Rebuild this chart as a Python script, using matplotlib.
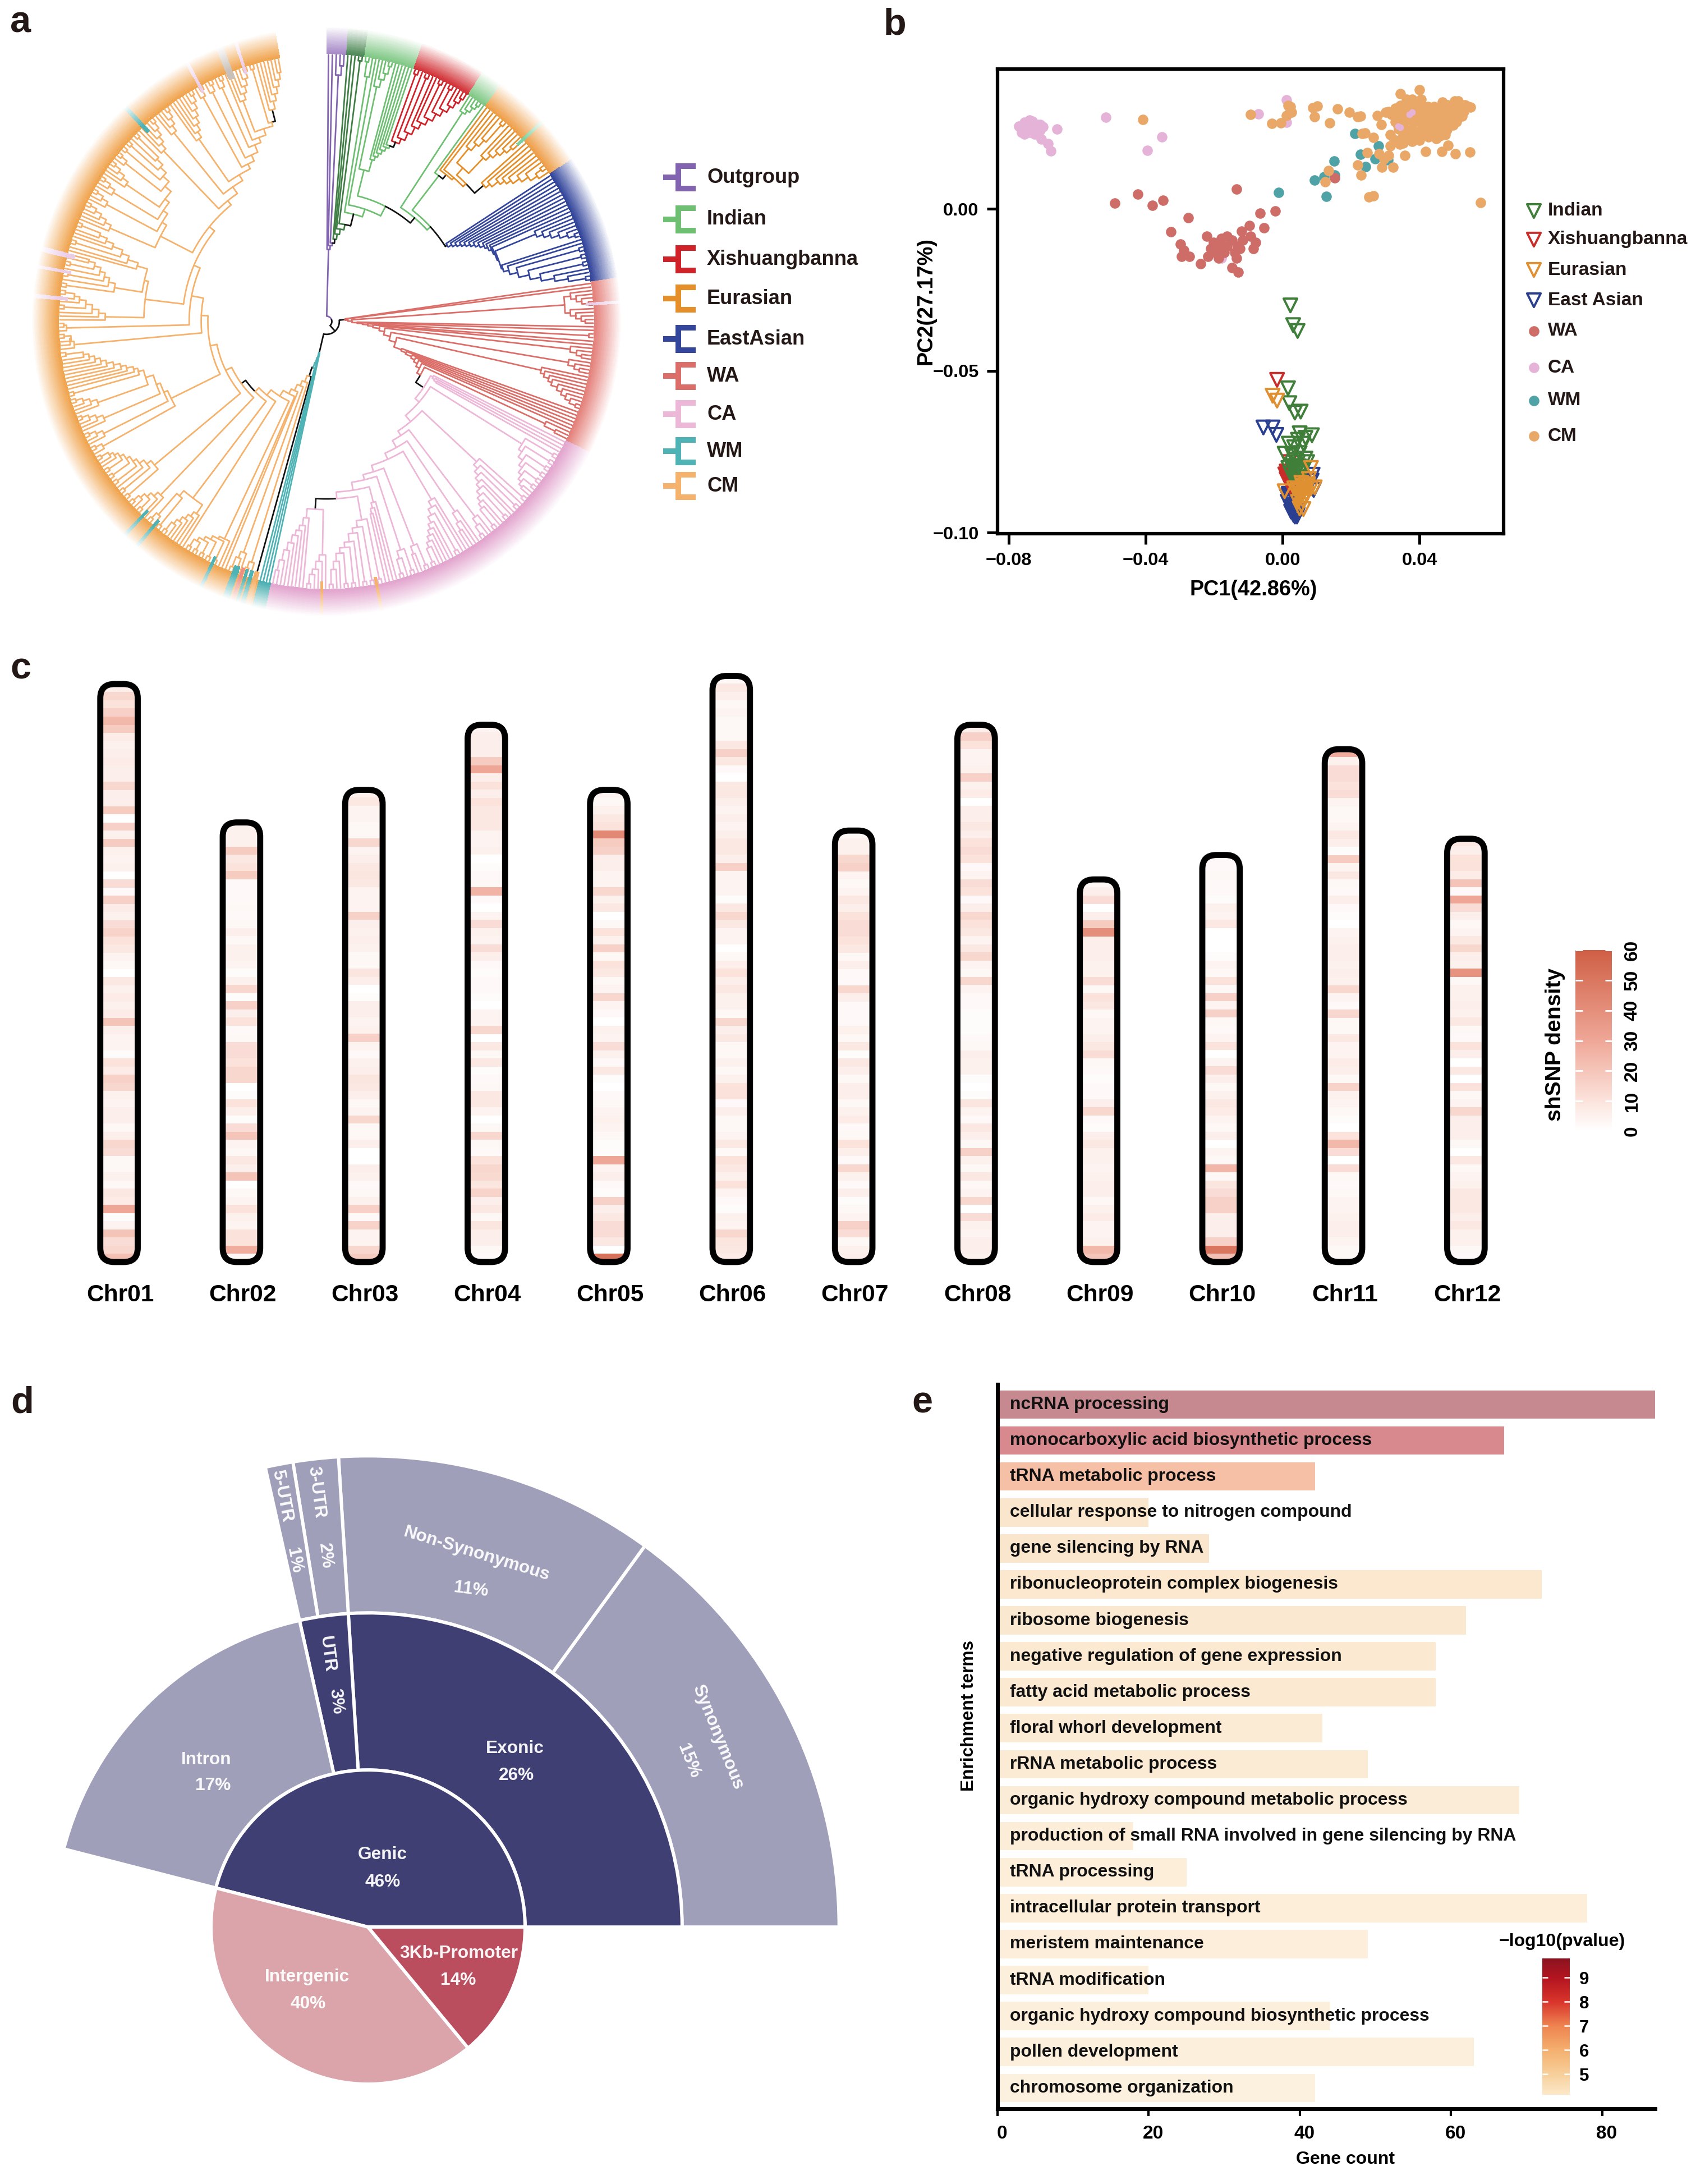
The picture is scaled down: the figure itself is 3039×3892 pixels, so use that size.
import numpy as np
import matplotlib
matplotlib.use("Agg")
import matplotlib.pyplot as plt
from matplotlib.cm import ScalarMappable
from matplotlib.collections import LineCollection
from matplotlib.colors import LinearSegmentedColormap, Normalize, to_rgb
from matplotlib.patches import FancyBboxPatch
from matplotlib.transforms import ScaledTranslation

plt.rcParams['font.family'] = ['Liberation Sans', 'DejaVu Sans']
plt.rcParams['font.weight'] = 'bold'
W, H = 3039, 3892


# tree helpers: a node is a radius (1 = tip ring) with children, int child = n tips
def N(r, *kids, c=None, s=None):
    return {'r': r, 'c': c, 's': s, 'kids': list(kids)}


def L(rs, lefts, tail=1, c=None, s=None):
    node = tail
    for r, left in zip(rs[::-1], lefts[::-1]):
        node = N(r, left, node)
    node['c'] = c
    node['s'] = s
    return node


# ---- panel a data ----
GROUP_COLORS = {'out': '#8263B0', 'dg': '#3F7F45', 'green': '#6FBF73', 'red': '#CF2229', 'eur': '#E48F2A',
                'blue': '#34469C', 'wa': '#DB6E68', 'ca': '#EDB7D7', 'wm': '#4FB3B5', 'cm': '#F4B26C', 'k': '#111111'}
STRIP_COLORS = ['#A88CC8', '#4F8A58', '#82C987', '#D2353A', '#82C987', '#EE9F4A', '#34469C', '#E4827C', '#E3A6CF',
                '#4DB0B2', '#F0A550']
STRIP_EDGES = [0, 4.2, 8.1, 19, 32, 36.4, 56.5, 81.4, 116.4, 192, 194.7, 350]
THIN_ANGLE = [47.2, 86.2, 169.2, 181, 195.5, 196.6, 197.7, 198.6, 200, 205.3, 220.2, 223.4, 275, 280.8, 284.3, 316.8,
              331.7, 338.7, 342]
THIN_COLOR = ['#7FD0A0', '#EBD0EA', '#F4B26C', '#F4B26C', '#F4B26C', '#4FB3B5', '#4FB3B5', '#EE8C86', '#4FB3B5',
              '#4FB3B5', '#4FB3B5', '#4FB3B5', '#EBCDE8', '#EBCDE8', '#EBCDE8', '#4FB3B5', '#EBCDE8', '#C9C0B8', '#EBCDE8']
THIN_WIDTH = [.6, .6, .6, .6, .8, .8, .6, .6, 1.3, .6, .6, .6, .8, .6, 1.0, .8, .6, 1.4, .6]

RED = L([.72, .74, .77, .80, .825, .85, .88, .905, .93, .955, .975], [2, 1, 2, 1, 1, 2, 1, 2, 1, 1, 1], 1, c='red', s='k')
G_UP = L([.63, .645, .66, .675, .69, .70], [1, 1, 1, 1, 1, 1], RED)
G_B = N(.585, L([.90, .93, .955], [1, 1, 1], 2), G_UP)
D1 = L([.935, .95, .97], [1, 1, 1], 2)
EUR1 = N(.77, L([.84, .87, .90], [1, 1, 1], 2), L([.85, .875, .90, .925, .95], [1, 1, 1, 1, 1], 1))
EUR2 = L([.78, .80, .83, .85, .87, .90, .93, .96], [1, 1, 1, 1, 1, 1, 1, 2], 1, s='k')
EUR = L([.71, .72, .735], [1, 1, EUR1], EUR2, c='eur', s='k')
K1 = L([.85, .875, .90, .93, .96], [1, 1, 1, 1, 1], 2)
K2 = L([.69, .71, .74, .78, .82, .87, .92], [1, 1, 2, 2, 2, 1, 1], 2)
BLUE = L([.535, .55, .565, .58, .595, .61, .625, .64, .655, .665, .675, .68], [1, 1, 1, 1, 1, 1, 1, 1, 1, 1, 1, 1],
         N(.685, K1, K2), c='blue', s='k')
E = N(.527, N(.69, 1, EUR), BLUE)
D = N(.51, D1, E, s='k')
C = N(.485, G_B, D)
P = N(.445, 1, C)
Q = N(.415, N(.93, 2, 1), P, c='green', s='k')
DG = L([.31, .33, .35, .37], [1, 1, 1, 2], Q, c='dg', s='k')
TOP = L([.27, .285], [1, 1], N(.295, N(.925, 1, N(.96, 1, 1)), DG), c='out')

C0 = L([.45, .46, .47], [1, 1, 1], 1)
C1 = L([.865, .88, .90, .915, .93, .945, .96], [2, 2, 2, 2, 2, 2, 1], 1)
C2 = L([.77, .79, .81, .83, .85, .87, .89, .91], [2, 1, 2, 1, 1, 2, 1, 1], 2)
C3 = L([.92, .95], [1, 1], 2)
C4 = L([.86, .90, .93], [1, 1, 1], 1)
C5 = L([.775, .80, .825, .85, .87, .89, .91, .93], [1, 1, 2, 1, 1, 1, 1, 1], 2)
C6 = L([.90, .93], [2, 1], 1)
C7 = L([.90, .93], [2, 1], 2)
C8 = L([.755, .78, .80, .83, .85, .87, .90, .93], [2, 2, 2, 1, 2, 2, 1, 1], 2)
C9 = L([.70, .72, .74], [1, 1, 1], 1)
C_LAST = L([.875, .90, .93, .95], [1, 1, 1, 1], 2)
C_TAIL = L([.74, .77, .79, .81, .84, .87, .91, .95], [1, 1, 1, 1, 1, 1, 1, 1], 1)
CA = L([.44, .46, .49, .51, .54, .565, .59, .61, .64, .665], [C0, C1, C2, C3, C4, C5, C6, C7, C9, C8],
       N(.705, C_LAST, C_TAIL, s='k'), c='ca', s='k')

WA1 = N(.895, L([.92, .94, .96], [1, 1, 1], 2), L([.915, .935, .955, .97], [1, 1, 1, 1], 1))
WA2 = L([.92, .945, .965], [1, 1, 1], 1)
WA3 = L([.92, .945, .965], [1, 1, 1], 1)
WA4 = L([.825, .84, .86, .875, .90, .92, .94, .96], [1, 1, 1, 1, 1, 1, 1, 1], 2)
WA = L([.07, .08, .095, .115, .135, .155, .175, .20, .22, .245, .27, .30, .32, .345, .36, .375, .39, .405],
       [1, 1, WA1, 1, 1, 2, 1, 1, WA2, WA3, WA4, 1, 1, 1, 1, 1, 1, N(.905, 1, N(.95, 1, 1))], CA, c='wa', s='k')

CM_M = L([.70, .72, .74, .76, .79, .82, .85, .88], [6, 4, 4, 5, 3, 2, 2, 1], 2)
CM_END = L([.82, .85, .875, .90, .925, .95], [1, 1, 1, 1, 1, 1], 1, s='k')
CM_TAIL = L([.585, .615, .64, .66, .685, .715, .735, .76, .775], [6, 5, 8, 3, 3, 3, 1, 6, 2], CM_END)
CM_J = L([.83, .855, .88, .905, .93, .95], [1, 1, 1, 2, 1, 1], 2)
CM_K = L([.805, .83, .85, .87, .895, .92], [2, 1, 2, 1, 2, 1], 1)
CM_L = L([.74, .78, .81, .85, .88, .91], [1, 1, 2, 1, 1, 1], 2)
CM_G = L([.65, .665, .68, .71, .73, .745, .77, .79, .815, .84, .86, .88, .90, .92],
         [3, 4, 5, 5, 2, 1, 1, 1, 1, 1, 1, 1, 1, 1], 2)
CM_UP = L([.445, .47, .515, .54, .565],
          [CM_G, L([.95, .965], [1, 1], 3), N(.975, 1, N(.985, 1, 1)), N(.685, CM_J, N(.70, CM_K, CM_L)), CM_M], CM_TAIL)
CM_MID = L([.395, .42],
           [L([.90, .92, .94, .96], [1, 1, 2, 1], 2),
            L([.84, .86, .88, .895, .91, .925, .94, .955], [2, 2, 1, 2, 2, 2, 1, 1], 2)], CM_UP, s='k')
CM = L([.215, .24, .26, .285, .305, .33, .355, .375],
       [N(.975, 1, 1, s='k'), N(.945, 1, N(.97, 1, 1)), L([.92, .945], [1, 1], 2), 1, 1,
        L([.90, .91, .925, .94, .955], [1, 2, 2, 2, 2], 2), 1,
        L([.83, .855], [L([.87, .89, .91, .93, .95], [1, 1, 1, 1, 1], 2), 2], 3)], CM_MID, c='cm', s='k')
WM_CM = L([.12, .14, .16, .18], [1, 1, 1, 1], CM, c='wm', s='k')
TREE = N(.02, TOP, N(.048, WA, WM_CM, s='k'), c='out')

LEGEND_A = ['Outgroup', 'Indian', 'Xishuangbanna', 'Eurasian', 'EastAsian', 'WA', 'CA', 'WM', 'CM']
LEGEND_A_KEY = ['out', 'green', 'red', 'eur', 'blue', 'wa', 'ca', 'wm', 'cm']

# ---- panel b data ----
CM_X = [.0089, .0102, .0093, .0138, .0160, .0195, .0220, .0228, .0026, .0023, .0233, .0241, .0266, .0247, .0282, .0310,
        .0296, .0220, .0291, .0323, .0230, .0135, .0124, .0252, .0266, .0579, .0277, .0289, .0315, .0326, .0315, .0342,
        .0353, .0357, .0418, .0465, .0484, .0505, .0547, .0344, .0400, .0310, .0362, .0378, .0405, .0424, .0468, .0514,
        .0550, .0531, .0503, .0438, .0454, .0482, .0493, .0525, .0509, .0498, .0476, .0449, .0427, .0400, .0378, .0367,
        .0351, .0340, .0329, .0318, .0301, .0329, .0351, .0372, .0394, .0416, .0362, .0383, .0405, .0427, .0449, .0471,
        .0493, .0514, .0476, .0378, .0400, .0422, .0443, .0465, .0356, .0340, .0443, .0482, .0498, .0514, .0533, .0460,
        .0389, .0405, .0351, -.0408, -.0093, -.0031, -.0005, .0012, .0023, .0016,
        .0345, .0360, .0375, .0390, .0410, .0430, .0445, .0460, .0470, .0485, .0505, .0520, .0540, .0510, .0490, .0460,
        .0435, .0410, .0385, .0360, .0345, .0330, .0350, .0375, .0395, .0415, .0435, .0460, .0480, .0500, .0530]
CM_Y = [.0313, .0318, .0284, .0265, .0309, .0299, .0284, .0286, .0298, .0316, .0232, .0235, .0220, .0174, .0171, .0165,
        .0154, .0136, .0128, .0128, .0105, .0119, .0084, .0036, .0041, .0020, .0288, .0261, .0229, .0214, .0195, .0200,
        .0203, .0165, .0177, .0177, .0197, .0171, .0175, .0356, .0368, .0301, .0339, .0339, .0339, .0316, .0330, .0333,
        .0314, .0313, .0333, .0292, .0298, .0310, .0292, .0287, .0269, .0258, .0229, .0217, .0223, .0212, .0209, .0229,
        .0246, .0246, .0269, .0292, .0298, .0310, .0316, .0310, .0321, .0292, .0287, .0269, .0264, .0264, .0264, .0264,
        .0281, .0298, .0287, .0246, .0240, .0240, .0240, .0240, .0269, .0292, .0316, .0321, .0316, .0319, .0321, .0275,
        .0292, .0304, .0223, .0276, .0291, .0264, .0265, .0289, .0304, .0319,
        .0320, .0305, .0325, .0305, .0318, .0300, .0280, .0300, .0310, .0275, .0305, .0310, .0318, .0285, .0260, .0250,
        .0250, .0230, .0230, .0245, .0280, .0290, .0300, .0275, .0280, .0275, .0225, .0225, .0245, .0275, .0300]
WM_X = [.0211, .0281, .0228, .0270, .0308, .0242, .0150, .0121, .0093, .0153, .0128, -.0012]
WM_Y = [.0232, .0195, .0168, .0154, .0151, .0131, .0148, .0099, .0089, .0105, .0038, .0051]
WA_X = [.0153, -.0490, -.0423, -.0381, -.0350, -.0276, -.0134, -.0327, -.0065, -.0022, -.0097, -.0054, -.0120, -.0093,
        -.0078, -.0086, -.0299, -.0288, -.0296, -.0272, -.0240, -.0218, -.0221, -.0202, -.0187, -.0179, -.0163, -.0148,
        -.0132, -.0195, -.0171, -.0140, -.0125, -.0135, -.0148, -.0129, -.0210, -.0117, -.0187, -.0163]
WA_Y = [.0096, .0018, .0046, .0011, .0026, -.0027, .0061, -.0071, -.0013, -.0006, -.0052, -.0058, -.0069, -.0085,
        -.0103, -.0122, -.0109, -.0128, -.0146, -.0146, -.0170, -.0146, -.0085, -.0103, -.0116, -.0091, -.0116, -.0097,
        -.0116, -.0134, -.0134, -.0134, -.0122, -.0152, -.0182, -.0195, -.0122, -.0097, -.0152, -.0085]
CA_X = [-.0771, -.0763, -.0755, -.0747, -.0740, -.0732, -.0724, -.0716, -.0708, -.0701, -.0763, -.0740, -.0747, -.0724,
        -.0755, -.0732, -.0708, -.0740, -.0659, -.0705, -.0685, -.0677, -.0517, -.0352, -.0395, .0012, -.0070, .0012,
        -.0179, .0378, .0370, .0345, .0337]
CA_Y = [.0255, .0237, .0268, .0243, .0274, .0255, .0231, .0261, .0243, .0253, .0249, .0237, .0258, .0249, .0231, .0270,
        .0261, .0253, .0246, .0215, .0201, .0179, .0283, .0223, .0180, .0337, .0294, .0268, -.0152, .0298, .0292, .0252,
        .0255]
BLUE_X = [-.0056, -.0029, -.0018, .0015, .0023, .0034, .0044, .0028, .0017, .0039, .0088, .0085, .0091, .0012, .0036,
          .0020, .0030, .0040, .0025, .0032, .0018, .0026, .0042]
BLUE_Y = [-.0675, -.0675, -.0698, -.0904, -.0921, -.0944, -.0944, -.0933, -.0892, -.0933, -.0821, -.0839, -.0868, -.0886,
          -.0950, -.0900, -.0915, -.0925, -.0935, -.0945, -.0880, -.0905, -.0950]
XISH_X = [-.0016, .0012, .0017, .0026, .0012, .0034, .0020, .0044, .0023, .0036, .0012, .0020, .0030, .0008, .0016, .0028]
XISH_Y = [-.0528, -.0823, -.0834, -.0846, -.0811, -.0829, -.0782, -.0834, -.0858, -.0800, -.0835, -.0848, -.0855, -.0820,
          -.0815, -.0838]
IND_X = [.0023, .0031, .0044, .0016, .0020, .0036, .0053, .0050, .0086, .0067, .0045, .0018, .0061, .0034, .0006, .0050,
         .0028, .0067, .0045, .0028, .0056, .0072, .0017, .0039, .0023, .0056, .0035, .0048, .0030, .0042, .0052, .0032,
         .0044, .0060]
IND_Y = [-.0298, -.0359, -.0377, -.0554, -.0600, -.0629, -.0626, -.0693, -.0699, -.0707, -.0713, -.0725, -.0725, -.0736,
         -.0756, -.0754, -.0759, -.0771, -.0782, -.0794, -.0800, -.0782, -.0800, -.0817, -.0817, -.0817, -.0775, -.0795,
         -.0805, -.0810, -.0830, -.0830, -.0840, -.0805]
EUR_X = [-.0029, -.0016, .0044, .0061, .0050, .0066, .0055, .0061, .0077, .0083, .0034, .0072, .0083, .0094, .0055, .0006,
         .0066, .0050, .0055, .0060, .0070, .0075, .0045, .0050, .0065, .0058]
EUR_Y = [-.0577, -.0592, -.0869, -.0875, -.0892, -.0892, -.0915, -.0927, -.0834, -.0800, -.0863, -.0863, -.0863, -.0860,
         -.0846, -.0872, -.0852, -.0870, -.0880, -.0900, -.0880, -.0850, -.0905, -.0925, -.0865, -.0855]
LEGEND_B = ['Indian', 'Xishuangbanna', 'Eurasian', 'East Asian', 'WA', 'CA', 'WM', 'CM']
LEGEND_B_COLOR = ['#3F7F3A', '#C92D2A', '#DF9030', '#2A3F8F', '#CE6C68', '#E5B3D8', '#4FA3A7', '#E9A868']
LEGEND_B_MARKER = ['v', 'v', 'v', 'v', 'o', 'o', 'o', 'o']

# ---- panel c data: shSNP density per bin, top to bottom ----
CHR_NAMES = ['Chr01', 'Chr02', 'Chr03', 'Chr04', 'Chr05', 'Chr06', 'Chr07', 'Chr08', 'Chr09', 'Chr10', 'Chr11', 'Chr12']
CHR01 = [6, 14, 10, 16, 24, 18, 7, 5, 6, 7, 6, 6, 14, 6, 6, 18, 0, 16, 5, 18, 5, 4, 5, 0, 12, 2, 16, 7, 5, 12, 15, 10,
         8, 4, 3, 0, 8, 5, 7, 5, 7, 20, 6, 4, 4, 1, 10, 7, 16, 14, 5, 4, 6, 6, 3, 6, 14, 12, 3, 3, 5, 3, 8, 7, 30, 1, 4,
         20, 12, 14, 22]
CHR02 = [5, 5, 5, 18, 8, 10, 18, 2, 2, 2, 3, 2, 3, 6, 3, 5, 5, 4, 1, 5, 14, 1, 16, 6, 10, 2, 3, 12, 12, 10, 14, 14, 0, 1,
         10, 6, 1, 12, 20, 4, 3, 8, 6, 20, 0, 3, 4, 10, 5, 4, 10, 10, 28, 3]
CHR03 = [5, 8, 4, 4, 3, 3, 14, 4, 6, 8, 9, 8, 4, 4, 4, 16, 6, 5, 6, 5, 3, 3, 9, 6, 0, 1, 6, 6, 4, 5, 16, 4, 2, 5, 6, 9,
         8, 6, 3, 4, 14, 3, 3, 6, 0, 0, 6, 5, 2, 3, 5, 16, 2, 15, 4, 4, 14, 18]
CHR04 = [4, 6, 6, 6, 18, 30, 6, 10, 6, 10, 8, 8, 8, 4, 4, 5, 0, 1, 2, 3, 26, 2, 0, 4, 12, 5, 4, 12, 6, 2, 1, 2, 2, 1, 0, 4,
         4, 14, 0, 8, 3, 8, 1, 2, 3, 8, 8, 4, 0, 3, 14, 3, 2, 10, 14, 13, 9, 15, 6, 8, 3, 9, 6, 6, 3, 2]
CHR05 = [4, 3, 5, 8, 10, 42, 18, 16, 6, 6, 4, 4, 14, 5, 8, 0, 3, 10, 5, 16, 3, 10, 8, 3, 4, 14, 4, 2, 0, 5, 4, 12, 5, 2, 8,
         1, 0, 2, 3, 4, 5, 4, 3, 1, 1, 30, 4, 6, 2, 1, 16, 6, 8, 12, 12, 8, 0, 52]
CHR06 = [3, 8, 6, 3, 4, 3, 3, 3, 8, 16, 8, 2, 0, 8, 8, 6, 4, 6, 4, 6, 8, 8, 6, 16, 4, 4, 4, 1, 8, 14, 8, 4, 4, 0, 3, 6, 10,
         6, 8, 5, 5, 3, 14, 6, 8, 3, 3, 5, 3, 5, 10, 10, 2, 6, 3, 3, 4, 8, 2, 10, 8, 5, 10, 4, 2, 1, 5, 4, 14, 9, 8, 7]
CHR07 = [3, 5, 5, 14, 16, 4, 3, 4, 8, 6, 10, 12, 12, 10, 8, 3, 6, 2, 2, 14, 6, 2, 2, 2, 5, 3, 8, 1, 8, 6, 3, 6, 6, 3, 5, 7,
         2, 3, 10, 6, 2, 14, 5, 2, 6, 1, 3, 4, 16, 12, 3, 5, 6]
CHR08 = [6, 16, 10, 4, 4, 5, 16, 5, 7, 0, 6, 6, 8, 6, 10, 12, 10, 2, 4, 12, 10, 2, 6, 14, 10, 8, 4, 8, 14, 4, 3, 14, 4,
         2, 2, 1, 1, 1, 2, 3, 6, 5, 5, 1, 0, 1, 9, 4, 2, 8, 6, 3, 16, 5, 3, 8, 3, 4, 14, 0, 12, 5, 4, 6, 6, 5]
CHR09 = [3, 6, 12, 0, 6, 18, 40, 6, 6, 6, 5, 5, 12, 3, 10, 8, 3, 4, 4, 6, 8, 12, 3, 2, 1, 2, 2, 6, 14, 2, 1, 6, 8, 5, 5,
         4, 5, 6, 6, 3, 5, 7, 4, 4, 5, 24, 20]
CHR10 = [2, 2, 3, 2, 2, 1, 5, 4, 8, 0, 0, 0, 1, 4, 3, 10, 3, 16, 4, 16, 3, 2, 4, 10, 0, 4, 12, 6, 3, 5, 8, 7, 4, 3, 6, 0,
         4, 3, 25, 3, 9, 12, 16, 16, 6, 6, 6, 16, 50, 22]
CHR11 = [28, 5, 12, 12, 10, 12, 4, 3, 3, 4, 8, 6, 1, 18, 4, 8, 3, 2, 6, 2, 1, 0, 4, 5, 6, 6, 5, 6, 5, 14, 4, 2, 14, 3, 3,
         8, 4, 4, 7, 6, 3, 15, 5, 4, 3, 1, 0, 10, 24, 12, 0, 12, 3, 2, 3, 4, 4, 5, 6, 6, 4, 3, 3]
CHR12 = [8, 6, 10, 10, 7, 20, 2, 30, 12, 6, 3, 4, 8, 14, 6, 5, 38, 3, 5, 5, 6, 5, 8, 3, 2, 10, 6, 0, 8, 0, 10, 3, 4, 14, 6,
         6, 6, 3, 0, 8, 3, 4, 5, 8, 8, 8, 6, 8, 5, 5, 3, 2]
CHR_DENSITY = [CHR01, CHR02, CHR03, CHR04, CHR05, CHR06, CHR07, CHR08, CHR09, CHR10, CHR11, CHR12]

# ---- panel d data: shares, printed labels are separate ----
D_INNER = [46, 40, 14]
D_MIDDLE = [26, 2.5, 17.5]
D_OUTER = [15, 11, 1.55, .95]

# ---- panel e data ----
E_TERMS = ['ncRNA processing', 'monocarboxylic acid biosynthetic process', 'tRNA metabolic process',
           'cellular response to nitrogen compound', 'gene silencing by RNA', 'ribonucleoprotein complex biogenesis',
           'ribosome biogenesis', 'negative regulation of gene expression', 'fatty acid metabolic process',
           'floral whorl development', 'rRNA metabolic process', 'organic hydroxy compound metabolic process',
           'production of small RNA involved in gene silencing by RNA', 'tRNA processing',
           'intracellular protein transport', 'meristem maintenance', 'tRNA modification',
           'organic hydroxy compound biosynthetic process', 'pollen development', 'chromosome organization']
E_COUNT = [87, 67, 42, 20, 28, 72, 62, 58, 58, 43, 49, 69, 18, 25, 78, 49, 20, 44, 63, 42]
E_LOGP = [9.7, 9.0, 7.0, 5.0, 5.0, 4.9, 4.85, 4.8, 4.8, 4.7, 4.65, 4.6, 4.55, 4.5, 4.5, 4.45, 4.4, 4.4, 4.35, 4.3]

fig = plt.figure(figsize=(W / 300, H / 300), dpi=300, facecolor='white')


def add_ax(x0, y0, x1, y1, **kw):
    return fig.add_axes([x0 / W, 1 - y1 / H, (x1 - x0) / W, (y1 - y0) / H], **kw)


# ---- panel a: fan tree ----
ax_a = add_ax(52, 43, 1112, 1103, projection='polar')
ax_a.set_theta_zero_location('N')
ax_a.set_theta_direction(-1)
ax_a.set_axis_off()
RMAX = 1.115


def collect_tips(node, color, out):
    if isinstance(node, int):
        for _ in range(node):
            out.append(color)
        return
    color = node['c'] or color
    for k in node['kids']:
        collect_tips(k, color, out)


tip_colors = []
collect_tips(TREE, 'out', tip_colors)
runs = []
for col in tip_colors:
    if runs and runs[-1][0] == col:
        runs[-1][1] += 1
    else:
        runs.append([col, 1])
tip_angles = []
for k, (col, m) in enumerate(runs):
    for i in range(m):
        tip_angles.append(STRIP_EDGES[k] + (i + .5) * (STRIP_EDGES[k + 1] - STRIP_EDGES[k]) / m)

segs = {}
tip_pos = [0]


def comb(n):
    # n tips of an unresolved end clade, stepping up to the ring
    rs = [.985 - .025 * i for i in range(n - 1)][::-1]
    return L(rs, [1] * (n - 1), 1)


def add_branch(color, th0, th1, r, r1):
    arc = np.linspace(th0, th1, max(2, int(abs(th1 - th0) / 1.5) + 2))
    pts = [(np.radians(t), r) for t in arc] + [(np.radians(th1), r1)]
    segs.setdefault(color, []).append(pts)


def layout(node, color):
    # returns angle and radius of node, mean-of-children rule as in an elbow tree
    if isinstance(node, int) and node == 1:
        a = tip_angles[tip_pos[0]]
        tip_pos[0] += 1
        return a, 1.0, color
    if isinstance(node, int):
        node = comb(node)
    color = node['c'] or color
    res = [layout(k, color) for k in node['kids']]
    a = (res[0][0] + res[-1][0]) / 2
    for ca, cr, ccol in res:
        add_branch(ccol, a, ca, node['r'], cr)
    return a, node['r'], node['s'] or color


layout(TREE, 'out')
for key, pts in segs.items():
    ax_a.add_collection(LineCollection(pts, colors=GROUP_COLORS[key], linewidths=.66, capstyle='round', zorder=3),
                        autolim=False)


def fade_strip(a0, a1, color, r0=1.003, z=1):
    # opaque blend with white, so neighbouring cells cannot double up
    th = np.radians(np.linspace(a0, a1, max(2, int(a1 - a0) + 2)))
    rr = np.linspace(r0, 1.108, 30)
    rc = (rr[:-1] + rr[1:]) / 2
    alpha = np.clip(1 - (np.clip(rc - 1.008, 0, None) / .098) ** 1.05, 0, 1)
    rgb = 1 - alpha[:, None] * (1 - np.array(to_rgb(color)))[None, :]
    rgba = np.ones((len(rc), len(th) - 1, 4))
    rgba[..., :3] = rgb[:, None, :]
    T, R = np.meshgrid(th, rr)
    ax_a.pcolormesh(T, R, rgba, shading='flat', zorder=z)


for k, col in enumerate(STRIP_COLORS):
    fade_strip(STRIP_EDGES[k], STRIP_EDGES[k + 1], col)
for ang, col, wid in zip(THIN_ANGLE, THIN_COLOR, THIN_WIDTH):
    fade_strip(ang - wid / 2, ang + wid / 2, col, r0=.975, z=4)
ax_a.set_ylim(0, RMAX)
ax_a.grid(False)

# overlay in picture pixels for labels and hand placed legends
ov = fig.add_axes([0, 0, 1, 1], zorder=10)
ov.set_xlim(0, W)
ov.set_ylim(H, 0)
ov.axis('off')
ov.patch.set_alpha(0)

for txt, px, py in zip('abcde', [37, 1595, 37, 40, 1644], [40, 44, 1192, 2501, 2501]):
    ov.text(px, py, txt, fontsize=16, ha='center', va='center', color='#231815')

LEG_A_Y = [316, 391, 462, 532, 604, 670, 738, 804, 866]
for name, key, y in zip(LEGEND_A, LEGEND_A_KEY, LEG_A_Y):
    col = GROUP_COLORS[key]
    ov.plot([1182, 1209], [y, y], color=col, lw=2.4, solid_capstyle='butt')
    ov.plot([1235, 1209, 1209, 1235], [y - 20, y - 20, y + 20, y + 20], color=col, lw=2.4, solid_joinstyle='miter')
    ov.text(1260, y, name, fontsize=8.7, va='center', ha='left', color='#231815')

# ---- panel b: PCA ----
ax_b = add_ax(1778, 123, 2680, 951)
S_DOT, S_TRI = 20, 34
ax_b.scatter(CA_X, CA_Y, s=S_DOT, color=LEGEND_B_COLOR[5], lw=0, zorder=2)
ax_b.scatter(WM_X, WM_Y, s=S_DOT, color=LEGEND_B_COLOR[6], lw=0, zorder=3)
ax_b.scatter(WA_X, WA_Y, s=S_DOT, color=LEGEND_B_COLOR[4], lw=0, zorder=3)
ax_b.scatter(CM_X, CM_Y, s=S_DOT, color=LEGEND_B_COLOR[7], lw=0, zorder=4)
ax_b.scatter(CA_X[-4:], CA_Y[-4:], s=S_DOT * .4, color=LEGEND_B_COLOR[5], lw=0, zorder=5)
tri = dict(marker='v', s=S_TRI, facecolors='none', linewidths=.95)
ax_b.scatter(BLUE_X, BLUE_Y, edgecolors=LEGEND_B_COLOR[3], zorder=4, **tri)
ax_b.scatter(XISH_X, XISH_Y, edgecolors=LEGEND_B_COLOR[1], zorder=5, **tri)
ax_b.scatter(IND_X, IND_Y, edgecolors=LEGEND_B_COLOR[0], zorder=6, **tri)
ax_b.scatter(EUR_X, EUR_Y, edgecolors=LEGEND_B_COLOR[2], zorder=7, **tri)
ax_b.set_xlim(-.0833, .0646)
ax_b.set_ylim(-.1003, .0432)
ax_b.set_xticks([-.08, -.04, 0, .04])
ax_b.set_yticks([0, -.05, -.10])
ax_b.xaxis.set_major_formatter(lambda v, p: f'{v:.2f}'.replace('-', '\u2212'))
ax_b.yaxis.set_major_formatter(lambda v, p: f'{v:.2f}'.replace('-', '\u2212'))
ax_b.tick_params(labelsize=7.8, length=4.5, width=1.2, pad=3.5)
for sp in ax_b.spines.values():
    sp.set_linewidth(1.5)
ov.text(2234, 1051, 'PC1(42.86%)', fontsize=9.1, ha='center', va='center')
ov.text(1650, 537, 'PC2(27.17%)', fontsize=9.1, ha='center', va='center', rotation=90)
LEG_B_Y = [376, 427, 481, 535, 590, 655, 714, 777]
for name, col, mk, y in zip(LEGEND_B, LEGEND_B_COLOR, LEGEND_B_MARKER, LEG_B_Y):
    if mk == 'v':
        ov.scatter([2734], [y], marker='v', s=S_TRI, facecolors='none', edgecolors=col, linewidths=.95)
    else:
        ov.scatter([2734], [y], marker='o', s=S_DOT, color=col, lw=0)
    ov.text(2759, y, name, fontsize=8, va='center', ha='left', color='#231815')

# ---- panel c: chromosomes ----
ax_c = add_ax(103, 1190, 2722, 2260)
ax_c.set_xlim(-.5, 11.5)
ax_c.set_ylim(-.76, 73)
ax_c.axis('off')
cmap_c = LinearSegmentedColormap.from_list('snp', [(0, '#FFFFFF'), (10 / 60, '#FBE3DC'), (30 / 60, '#EFA797'),
                                                   (1, '#CF5F45')])
norm_c = Normalize(0, 60)
HALF = .153
for i, vals in enumerate(CHR_DENSITY):
    n = len(vals)
    im = ax_c.imshow(np.array(vals, float).reshape(-1, 1), cmap=cmap_c, norm=norm_c, aspect='auto',
                     extent=[i - HALF, i + HALF, 0, n], interpolation='nearest', zorder=1)
    box = FancyBboxPatch((i - HALF, 0), 2 * HALF, n, boxstyle='round,pad=0,rounding_size=.115', mutation_aspect=15,
                         fc='none', ec='black', lw=2.6, zorder=2)
    ax_c.add_patch(box)
    im.set_clip_path(box)
ax_c.set_xlim(-.5, 11.5)
ax_c.set_ylim(-.76, 73)
for i, name in enumerate(CHR_NAMES):
    ov.text(214 + i * 218.3, 2308, name, fontsize=10.2, ha='center', va='center')

cax_c = add_ax(2808, 1693, 2873, 2016)
cb_c = fig.colorbar(ScalarMappable(norm=norm_c, cmap=cmap_c), cax=cax_c)
cb_c.set_ticks([0, 10, 20, 30, 40, 50, 60])
cb_c.outline.set_visible(False)
cax_c.tick_params(axis='y', direction='in', left=True, right=True, labelright=True, color='white', length=3, width=.7,
                  labelsize=8, pad=5, labelrotation=90)
for t in cax_c.get_yticklabels():
    t.set_va('center')
ov.text(2772, 1861, 'shSNP density', fontsize=9.4, ha='center', va='center', rotation=90)

# ---- panel d: sunburst ----
ax_d = add_ax(85, 2586, 1504, 3728)
wp = dict(edgecolor='white', linewidth=1.4)
DARK, LIGHT = '#3F3F73', '#9F9FBA'
w3, _ = ax_d.pie(D_OUTER + [100 - sum(D_OUTER)], radius=1, startangle=0, counterclock=True,
                 colors=[LIGHT] * 4 + ['none'], wedgeprops=dict(width=1 / 3, **wp))
w3[-1].set_visible(False)
w2, _ = ax_d.pie(D_MIDDLE + [100 - sum(D_MIDDLE)], radius=2 / 3, startangle=0, counterclock=True,
                 colors=[DARK, DARK, LIGHT, 'none'], wedgeprops=dict(width=1 / 3, **wp))
w2[-1].set_visible(False)
ax_d.pie(D_INNER, radius=1 / 3, startangle=0, counterclock=True, colors=[DARK, '#DBA4AB', '#BA4E5E'], wedgeprops=wp)
ax_d.set_aspect('equal')
ax_d.set_xlim(-.68, 1.01)
ax_d.set_ylim(-.35, 1.01)

D_TEXT = [('Genic', 682, 3305, 0), ('46%', 682, 3354, 0), ('Exonic', 918, 3116, 0), ('26%', 920, 3164, 0),
          ('Intron', 368, 3136, 0), ('17%', 380, 3182, 0), ('Non-Synonymous', 850, 2769, -17), ('11%', 840, 2833, -7),
          ('Synonymous', 1279, 3096, -68), ('15%', 1227, 3138, -68), ('3-UTR', 564, 2659, -83), ('2%', 580, 2773, -83),
          ('5-UTR', 503, 2666, -79), ('1%', 524, 2781, -79), ('UTR', 583, 2947, -83), ('3%', 599, 3032, -83),
          ('Intergenic', 547, 3523, 0), ('40%', 549, 3571, 0), ('3Kb-Promoter', 818, 3481, 0), ('14%', 817, 3529, 0)]
for txt, px, py, rot in D_TEXT:
    ov.text(px, py, txt, color='white', fontsize=7.6, ha='center', va='center', rotation=rot, rotation_mode='anchor',
            alpha=.95)

# ---- panel e: enrichment bars ----
ax_e = add_ax(1778, 2467, 2950, 3758)
vmin_e, vmax_e = 4.14, 9.8
stops = [(4.14, '#FCE8C8'), (5, '#F7CF9A'), (6, '#F4AF6E'), (7, '#EE8350'), (8, '#D9352C'), (9, '#B3141F'),
         (9.8, '#8B1420')]
cmap_e = LinearSegmentedColormap.from_list('p', [((v - vmin_e) / (vmax_e - vmin_e), c) for v, c in stops])
norm_e = Normalize(vmin_e, vmax_e)
ypos = np.arange(len(E_TERMS))
ax_e.barh(ypos, E_COUNT, height=.79, color=cmap_e(norm_e(E_LOGP)), alpha=.5, lw=0)
for y, term in zip(ypos, E_TERMS):
    ax_e.text(1.6, y, term, fontsize=7.65, va='center', ha='left', color='#111111')
ax_e.set_xlim(0, 87)
ax_e.set_ylim(19.58, -.56)
ax_e.set_yticks([])
ax_e.set_xticks([0, 20, 40, 60, 80])
ax_e.tick_params(axis='x', labelsize=8, length=3, width=1, pad=4)
for lab in ax_e.get_xticklabels():
    lab.set_transform(lab.get_transform() + ScaledTranslation(8 / 300, 0, fig.dpi_scale_trans))
ax_e.spines['top'].set_visible(False)
ax_e.spines['right'].set_visible(False)
ax_e.spines['left'].set_linewidth(1.7)
ax_e.spines['bottom'].set_linewidth(1.7)
ov.text(2398, 3848, 'Gene count', fontsize=7.7, ha='center', va='center')
ov.text(1727, 3057, 'Enrichment terms', fontsize=7.6, ha='center', va='center', rotation=90)

cax_e = add_ax(2749, 3490, 2798, 3733)
cb_e = fig.colorbar(ScalarMappable(norm=norm_e, cmap=cmap_e), cax=cax_e)
cb_e.set_ticks([5, 6, 7, 8, 9])
cb_e.outline.set_visible(False)
cax_e.tick_params(axis='y', direction='in', left=True, right=True, labelright=True, color='white', length=2.5, width=.6,
                  labelsize=7.5, pad=4)
ov.text(2784, 3460, '\u2212log10(pvalue)', fontsize=7.7, ha='center', va='center')

fig.savefig('out.png', dpi=300, facecolor='white')
